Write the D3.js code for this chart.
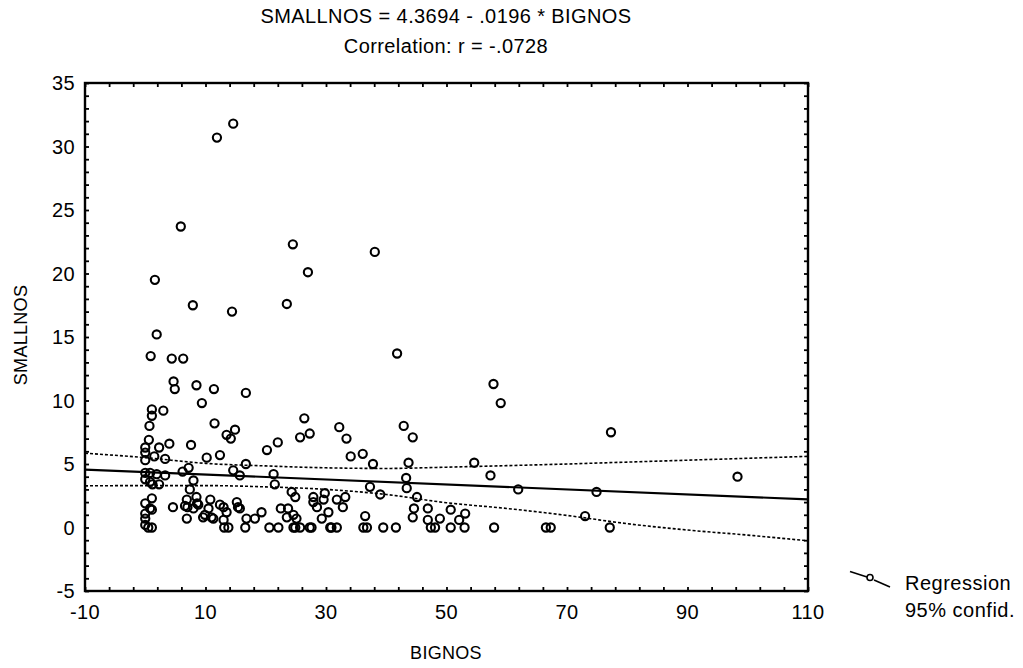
<!DOCTYPE html>
<html>
<head>
<meta charset="utf-8">
<script src="https://cdn.jsdelivr.net/npm/d3@7"></script>
<style>
  html, body { margin: 0; padding: 0; background: #fff; }
  svg { display: block; font-family: "Liberation Sans", Arial, sans-serif; }
</style>
</head>
<body>
<svg id="chart" width="1023" height="668"></svg>
<script>
// ---- data ----
const titleLines = ["SMALLNOS = 4.3694 - .0196 * BIGNOS", "Correlation: r = -.0728"];
const xLabel = "BIGNOS";
const yLabel = "SMALLNOS";
const xTickLabels = [-10, 10, 30, 50, 70, 90, 110];
const yTickLabels = [-5, 0, 5, 10, 15, 20, 25, 30, 35];
const legendLabels = ["Regression", "95% confid."];

const bignos = [
  14.6, 11.9, 5.9, 24.5, 38.1, 1.6, 27.0, 7.9, 14.4, 23.5,
  1.9, 0.9, 4.4, 6.3, 4.7, 4.9, 8.5, 11.4, 16.7, 9.4, 1.1, 3.0, 1.1, 0.7, 11.5, 26.4, 27.3, 25.7, 13.5, 14.2,
  14.9, 0.6, 0, 2.3, 4.0, 7.6, 0, 1.5, 0, 3.3, 10.2, 12.4, 20.2, 22.0, 16.7, 7.2, 14.6, 15.7, 21.3, 21.5,
  0, 0.8, 1.9, 3.3, 6.2, 0, 0.8, 2.3, 1.2, 8.0, 1.1, 0, 0.8, 0, 0, 1.1, 0.5, 1.1, 4.6, 6.9,
  7.0, 8.5, 8.6, 6.9, 10.8, 10.5, 9.6, 11.3, 13.0, 13.5, 13.0, 13.1, 13.8, 15.2, 15.7, 16.8, 16.6, 18.2, 19.3, 20.6,
  22.1, 22.5, 23.7, 23.5, 24.9, 24.3, 24.9, 27.6, 27.9, 27.9, 28.5, 29.8, 29.6, 29.3, 30.7,
  41.8, 57.8, 59.0, 32.2, 33.4, 34.1, 36.1, 37.8, 42.9, 44.4, 43.7, 43.3, 43.4, 45.1, 44.6, 44.4, 46.9, 46.9, 48.9, 50.7,
  52.1, 53.1, 54.6, 57.3, 61.9, 37.3, 39.0, 30.4, 31.8, 32.8, 33.2, 36.5, 25.7, 27.3, 30.9, 31.8, 36.2, 36.8, 39.5, 41.6,
  47.4, 48.1, 50.7, 53.0, 57.9, 66.5,
  77.3, 98.3, 74.9, 73.0, 67.3, 77.1,
  7.4, 6.6, 8.0, 8.8, 12.4, 11.0, 15.4, 9.9, 0, 24.6, 25.1, 24.6
];
const smallnos = [
  31.8, 30.7, 23.7, 22.3, 21.7, 19.5, 20.1, 17.5, 17.0, 17.6,
  15.2, 13.5, 13.3, 13.3, 11.5, 10.9, 11.2, 10.9, 10.6, 9.8, 9.3, 9.2, 8.8, 8.0, 8.2, 8.6, 7.4, 7.1, 7.3, 7.0,
  7.7, 6.9, 6.3, 6.3, 6.6, 6.5, 5.9, 5.6, 5.3, 5.4, 5.5, 5.7, 6.1, 6.7, 5.0, 4.7, 4.5, 4.1, 4.2, 3.4,
  4.3, 4.3, 4.2, 4.1, 4.4, 3.8, 3.6, 3.4, 3.4, 3.7, 2.3, 1.9, 1.5, 1.1, 0.7, 1.4, 0, 0, 1.6, 2.2,
  1.6, 2.4, 1.9, 0.7, 2.2, 1.5, 0.8, 0.7, 1.6, 1.2, 0.6, 0, 0, 2.0, 1.5, 0.7, 0, 0.7, 1.2, 0,
  0, 1.5, 1.5, 0.8, 0, 2.8, 2.4, 0, 2.4, 2.0, 1.6, 2.7, 2.2, 0.7, 0,
  13.7, 11.3, 9.8, 7.9, 7.0, 5.6, 5.8, 5.0, 8.0, 7.1, 5.1, 3.9, 3.1, 2.4, 1.5, 0.8, 1.5, 0.6, 0.7, 1.4,
  0.6, 1.1, 5.1, 4.1, 3.0, 3.2, 2.6, 1.2, 2.2, 1.6, 2.4, 0.9, 0, 0, 0, 0, 0, 0, 0, 0,
  0, 0, 0, 0, 0, 0,
  7.5, 4.0, 2.8, 0.9, 0, 0,
  3.0, 1.7, 1.5, 1.8, 1.8, 0.8, 1.6, 1.0, 0.2, 1.0, 0.7, 0
];

// regression line end points and 95% confidence bands
const regX = [-10, 110];
const regY = [4.565, 2.213];
const bandX = [-10, 0, 10, 20, 30, 40, 50, 60, 70, 80, 90, 100, 110];
const bandUpper = [5.85, 5.5, 5.05, 4.85, 4.7, 4.65, 4.75, 4.87, 5.0, 5.15, 5.3, 5.45, 5.6];
const bandLower = [3.28, 3.3, 3.3, 3.2, 3.0, 2.6, 1.95, 1.5, 0.95, 0.3, -0.2, -0.6, -1.05];

// ---- layout ----
const svg = d3.select("#chart");
const L = 85, R = 808, T = 83, B = 591;
const x = d3.scaleLinear().domain([-10, 110]).range([L, R]);
const y = d3.scaleLinear().domain([-5, 35]).range([B, T]);
const FS = 20;

// titles
svg.selectAll("text.title").data(titleLines).enter().append("text")
  .attr("class", "title")
  .attr("x", 446).attr("y", (d, i) => 23 + i * 30)
  .attr("text-anchor", "middle").attr("font-size", FS).attr("letter-spacing", 0.4)
  .attr("fill", "#000")
  .text(d => d);

// axes with inward minor ticks
const xMinor = d3.range(-10, 110.001, 4);
const yMinor = d3.range(-5, 35.001, 1);
const tickLen = 4;

const bottomAxis = d3.axisBottom(x).tickValues(xMinor).tickSize(-tickLen).tickFormat("");
const topAxis = d3.axisTop(x).tickValues(xMinor).tickSize(-tickLen).tickFormat("");
const leftAxis = d3.axisLeft(y).tickValues(yMinor).tickSize(-tickLen).tickFormat("");
const rightAxis = d3.axisRight(y).tickValues(yMinor).tickSize(-tickLen).tickFormat("");

function styleAxis(g) {
  g.select(".domain").remove();
  g.selectAll(".tick line").attr("stroke", "#000").attr("stroke-width", 1.8);
}
svg.append("g").attr("transform", `translate(0,${B})`).call(bottomAxis).call(styleAxis);
svg.append("g").attr("transform", `translate(0,${T})`).call(topAxis).call(styleAxis);
svg.append("g").attr("transform", `translate(${L},0)`).call(leftAxis).call(styleAxis);
svg.append("g").attr("transform", `translate(${R},0)`).call(rightAxis).call(styleAxis);

// tick labels
svg.selectAll("text.xt").data(xTickLabels).enter().append("text")
  .attr("class", "xt").attr("x", d => x(d)).attr("y", 619)
  .attr("text-anchor", "middle").attr("font-size", FS).attr("letter-spacing", 0.4).text(d => d);
svg.selectAll("text.yt").data(yTickLabels).enter().append("text")
  .attr("class", "yt").attr("x", 75).attr("y", d => y(d))
  .attr("dy", "0.35em")
  .attr("text-anchor", "end").attr("font-size", FS).attr("letter-spacing", 0.4).text(d => d);

// axis titles
svg.append("text").attr("x", 446).attr("y", 659).attr("text-anchor", "middle")
  .attr("font-size", 18).attr("letter-spacing", 0.3).text(xLabel);
svg.append("text").attr("transform", "translate(27,335) rotate(-90)")
  .attr("text-anchor", "middle").attr("font-size", 18).attr("letter-spacing", 0.3).text(yLabel);

// plot clip
svg.append("defs").append("clipPath").attr("id", "clip")
  .append("rect").attr("x", L).attr("y", T).attr("width", R - L).attr("height", B - T);
const plot = svg.append("g").attr("clip-path", "url(#clip)");

// points
const pts = bignos.map((b, i) => [b, smallnos[i]]);
plot.selectAll("circle.pt").data(pts).enter().append("circle")
  .attr("class", "pt")
  .attr("cx", d => x(d[0])).attr("cy", d => y(d[1])).attr("r", 4.1)
  .attr("fill", "none").attr("stroke", "#000").attr("stroke-width", 2.1);

// regression line
const line = d3.line().x(d => x(d[0])).y(d => y(d[1]));
plot.append("path").datum(regX.map((v, i) => [v, regY[i]]))
  .attr("d", line).attr("fill", "none").attr("stroke", "#000").attr("stroke-width", 2.2);

// confidence bands
const bandLine = d3.line().x(d => x(d[0])).y(d => y(d[1])).curve(d3.curveMonotoneX);
[bandUpper, bandLower].forEach(arr => {
  plot.append("path").datum(bandX.map((v, i) => [v, arr[i]]))
    .attr("d", bandLine).attr("fill", "none").attr("stroke", "#000")
    .attr("stroke-width", 1.6).attr("stroke-dasharray", "3,2");
});

// frame
svg.append("rect").attr("x", L).attr("y", T).attr("width", R - L).attr("height", B - T)
  .attr("fill", "none").attr("stroke", "#000").attr("stroke-width", 2.4);

// legend
const lg = svg.append("g");
lg.append("line").attr("x1", 850).attr("y1", 571.5).attr("x2", 867).attr("y2", 577)
  .attr("stroke", "#000").attr("stroke-width", 1.6);
lg.append("circle").attr("cx", 870).attr("cy", 577.5).attr("r", 3)
  .attr("fill", "#fff").attr("stroke", "#000").attr("stroke-width", 1.6);
lg.append("line").attr("x1", 874).attr("y1", 580).attr("x2", 890).attr("y2", 587)
  .attr("stroke", "#000").attr("stroke-width", 1.6);
lg.selectAll("text").data(legendLabels).enter().append("text")
  .attr("x", 905).attr("y", (d, i) => 583 + i * 27).attr("dy", "0.35em")
  .attr("font-size", FS).attr("letter-spacing", 0.5).text(d => d);
</script>
</body>
</html>
